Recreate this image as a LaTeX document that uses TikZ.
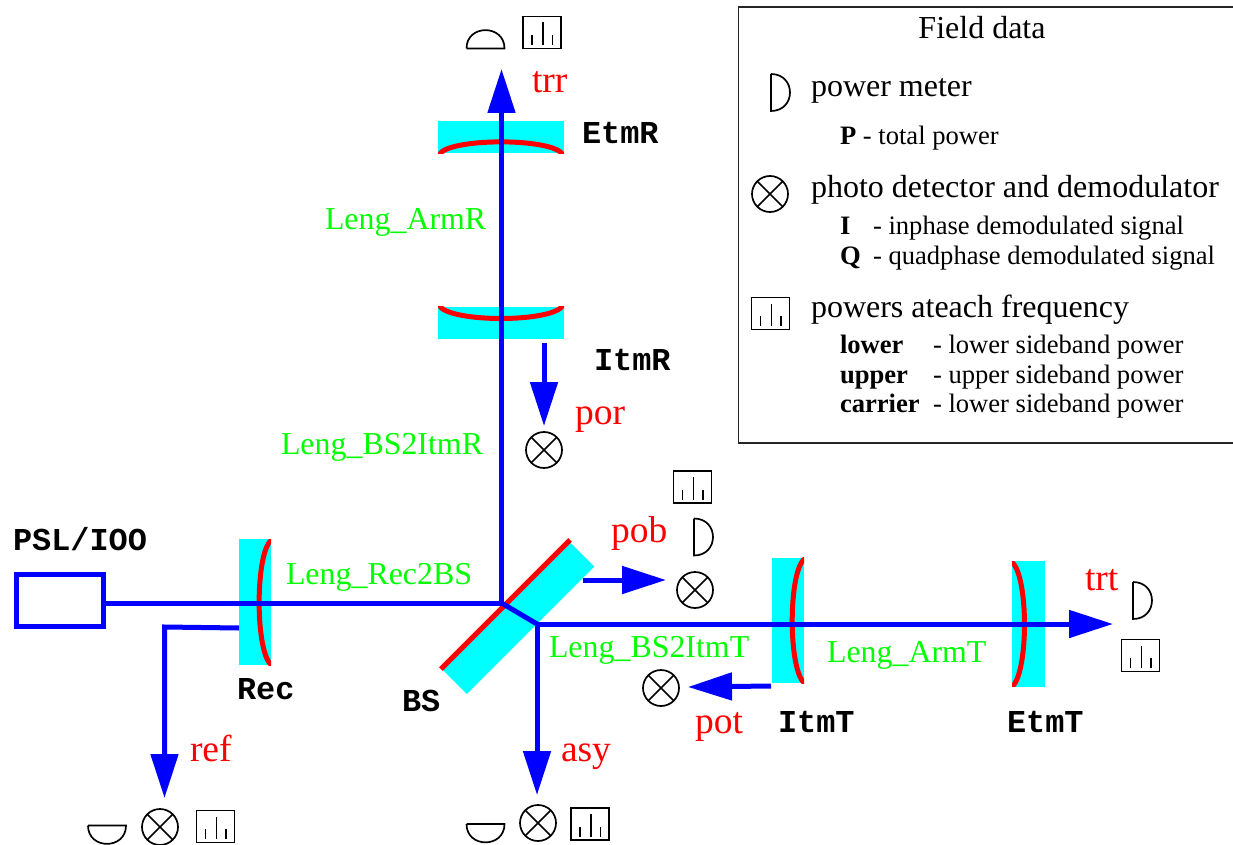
\documentclass[tikz,border=0pt]{standalone}
\usepackage{fontspec}
\setmainfont{Liberation Serif}
\setmonofont{Liberation Mono}
\usetikzlibrary{arrows.meta}
\definecolor{aqua}{RGB}{0,255,255}
\definecolor{pureblue}{RGB}{0,0,255}
\definecolor{purered}{RGB}{255,0,0}
\definecolor{puregreen}{RGB}{0,255,0}
\tikzset{
  lab/.style={anchor=base west,inner sep=0pt,outer sep=0pt},
  sig/.style={lab,text=purered,font=\fontsize{37.5}{38}\selectfont},
  len/.style={lab,text=puregreen,font=\fontsize{31.9}{32}\selectfont},
  mir/.style={lab,text=black,font=\fontsize{31.9}{32}\selectfont\ttfamily\bfseries},
  big/.style={lab,font=\fontsize{32}{33}\selectfont},
  small/.style={lab,font=\fontsize{26.6}{27}\selectfont},
  glass/.style={fill=aqua,draw=none,inner sep=0pt,outer sep=0pt},
  coat/.style={draw=purered,line width=5pt},
  beam/.style={draw=pureblue,line width=5pt},
  ray/.style={beam,-{Triangle[length=44pt,width=27pt]}},
  detector/.style={circle,draw=black,line width=1.7pt,minimum size=36pt,inner sep=0pt,outer sep=0pt,
    path picture={\draw[line width=1.7pt]
      (path picture bounding box.north west)--(path picture bounding box.south east)
      (path picture bounding box.north east)--(path picture bounding box.south west);}},
  spectrum/.style={rectangle,draw=black,line width=1.7pt,minimum width=38pt,minimum height=32pt,inner sep=0pt,outer sep=0pt,
    path picture={\draw[line width=1.7pt,shift={(path picture bounding box.center)}]
      (-10pt,-12.5pt)--(-10pt,-2.5pt) (1pt,-12.5pt)--(1pt,10pt) (10.5pt,-12.5pt)--(10.5pt,-2.5pt);}},
  meterright/.pic={\draw[black,line width=1.7pt] (0,-18.5)--(0,18.5) .. controls (25.3,18.5) and (25.3,-18.5) .. (0,-18.5);},
  meterup/.pic={\draw[black,line width=1.7pt] (-19,0)--(19,0) .. controls (19,-24.5) and (-19,-24.5) .. (-19,0);},
  meterdown/.pic={\draw[black,line width=1.7pt] (-19,0)--(19,0) .. controls (19,24.5) and (-19,24.5) .. (-19,0);},
}
\begin{document}
\begin{tikzpicture}[x=1pt,y=-1pt]
\useasboundingbox (0,0) rectangle (1233,845);

% legend
\draw[line width=1.7pt,black!85] (1234,7)--(738.5,7)--(738.5,443)--(1234,443);
\node[big,anchor=base] (ltitle) at (982,39) {Field data};
\pic at (771,92.5) {meterright};
\node[big] (l1) at (811,97) {power meter};
\node[small] (l1a) at (840,145) {\textbf{P} - total power};
\node[detector] (ldet) at (770,194) {};
\node[big] (l2) at (811,197) {photo detector and demodulator};
\node[small] (l2a) at (840,234) {\textbf{I}};
\node[small] (l2b) at (873,234) {- inphase demodulated signal};
\node[small] (l2c) at (840,264) {\textbf{Q}};
\node[small] (l2d) at (873,264) {- quadphase demodulated signal};
\node[spectrum] (lspec) at (770.5,313.5) {};
\node[big] (l3) at (811,317) {powers ateach frequency};
\node[small] (l3a) at (840,353) {\textbf{lower}};
\node[small] (l3b) at (933,353) {- lower sideband power};
\node[small] (l3c) at (840,383) {\textbf{upper}};
\node[small] (l3d) at (933,383) {- upper sideband power};
\node[small] (l3e) at (840,412) {\textbf{carrier}};
\node[small] (l3f) at (933,412) {- lower sideband power};

% optics: substrates
\node[glass,minimum width=126pt,minimum height=32.5pt] (EtmR) at (501,137.25) {};
\node[glass,minimum width=126pt,minimum height=32.5pt] (ItmR) at (501,323) {};
\node[glass,minimum width=32pt,minimum height=126pt] (Rec) at (255,602) {};
\node[glass,minimum width=32pt,minimum height=125.5pt] (ItmT) at (788,620.5) {};
\node[glass,minimum width=32.5pt,minimum height=125.5pt] (EtmT) at (1028.25,624) {};
\node[glass,minimum width=180.3pt,minimum height=34.7pt,rotate=45] (BSg) at (518.25,618) {};

% optics: coatings, each clipped to its substrate
\begin{scope}\clip (EtmR.south west) rectangle (EtmR.north east);
\draw[coat] (439,155) .. controls (447,137.5) and (555,137.5) .. (563,155);\end{scope}
\begin{scope}\clip (ItmR.south west) rectangle (ItmR.north east);
\draw[coat] (439,305) .. controls (447,323) and (555,323) .. (563,305);\end{scope}
\begin{scope}\clip (Rec.south west) rectangle (Rec.north east);
\draw[coat] (273,539) .. controls (254.5,547) and (254.5,658) .. (273,666);\end{scope}
\begin{scope}\clip (ItmT.south west) rectangle (ItmT.north east);
\draw[coat] (806,558) .. controls (787.6,566) and (787.6,676) .. (806,684);\end{scope}
\begin{scope}\clip (EtmT.south west) rectangle (EtmT.north east);
\draw[coat] (1010,561) .. controls (1029.3,569) and (1029.3,680) .. (1010,688);\end{scope}
\draw[draw=purered,line width=5pt] (441,669)--(570,540);

% coordinates of the beam paths
\coordinate (bsfront) at (501.5,603);
\coordinate (bsback) at (537,624);
\coordinate (trrTip) at (501.5,69);
\coordinate (trtTip) at (1113,624);
\coordinate (asyTip) at (537,795);
\coordinate (refStart) at (239,628);
\coordinate (refBend) at (164.5,627);
\coordinate (refTip) at (164.5,798);
\coordinate (porStart) at (544,343);
\coordinate (porTip) at (544,426);
\coordinate (pobStart) at (583,580);
\coordinate (pobTip) at (666,580);
\coordinate (potStart) at (771,686);
\coordinate (potTip) at (688,687);

% laser
\node[rectangle,draw=pureblue,line width=5pt,minimum width=87pt,minimum height=52pt,inner sep=0pt,outer sep=0pt] (PSL) at (59.75,600.5) {};

% beams
\draw[beam] (PSL.east |- bsfront)--(bsfront);
\draw[beam,line join=round] (bsfront)--(bsback);
\draw[ray] (bsfront)--(trrTip);
\draw[ray] (bsback)--(trtTip);
\draw[ray] (bsback)--(asyTip);
\draw[ray] (refStart)--(refBend)--(refTip);
\draw[ray] (porStart)--(porTip);
\draw[ray] (pobStart)--(pobTip);
\draw[ray] (potStart)--(potTip);

% readouts
\pic at (485.5,48.5) {meterup};
\node[spectrum] (sTrr) at (542,32.5) {};
\node[detector] (dPor) at (544,450) {};
\node[spectrum] (sPob) at (692.5,487) {};
\pic at (694,537) {meterright};
\node[detector] (dPob) at (695,590) {};
\pic at (1133,600.5) {meterright};
\node[spectrum] (sTrt) at (1140.5,655.5) {};
\node[detector] (dPot) at (661,688) {};
\pic at (107,825.5) {meterdown};
\node[detector] (dRef) at (160,827) {};
\node[spectrum] (sRef) at (215.5,826.5) {};
\pic at (485.5,824) {meterdown};
\node[detector] (dAsy) at (538,823) {};
\node[spectrum] (sAsy) at (590,824) {};

% mirror labels
\node[mir] (tEtmR) at (582,144) {EtmR};
\node[mir] (tItmR) at (594,370) {ItmR};
\node[mir] (tPSL) at (13,550) {PSL/IOO};
\node[mir] (tRec) at (237,699) {Rec};
\node[mir] (tBS) at (402,711) {BS};
\node[mir] (tItmT) at (778,732) {ItmT};
\node[mir] (tEtmT) at (1007,732) {EtmT};

% length labels
\node[len] (tArmR) at (325,229) {Leng\_ArmR};
\node[len] (tBSR) at (281,454) {Leng\_BS2ItmR};
\node[len] (tRecBS) at (286,584) {Leng\_Rec2BS};
\node[len] (tBST) at (549,657) {Leng\_BS2ItmT};
\node[len] (tArmT) at (827,662) {Leng\_ArmT};

% signal labels
\node[sig] (ttrr) at (532,93) {trr};
\node[sig] (tpor) at (575,424) {por};
\node[sig] (tpob) at (611,542) {pob};
\node[sig] (ttrt) at (1085,590) {trt};
\node[sig] (tpot) at (695,733) {pot};
\node[sig] (tasy) at (561,761) {asy};
\node[sig] (tref) at (190,761) {ref};
\end{tikzpicture}
\end{document}
